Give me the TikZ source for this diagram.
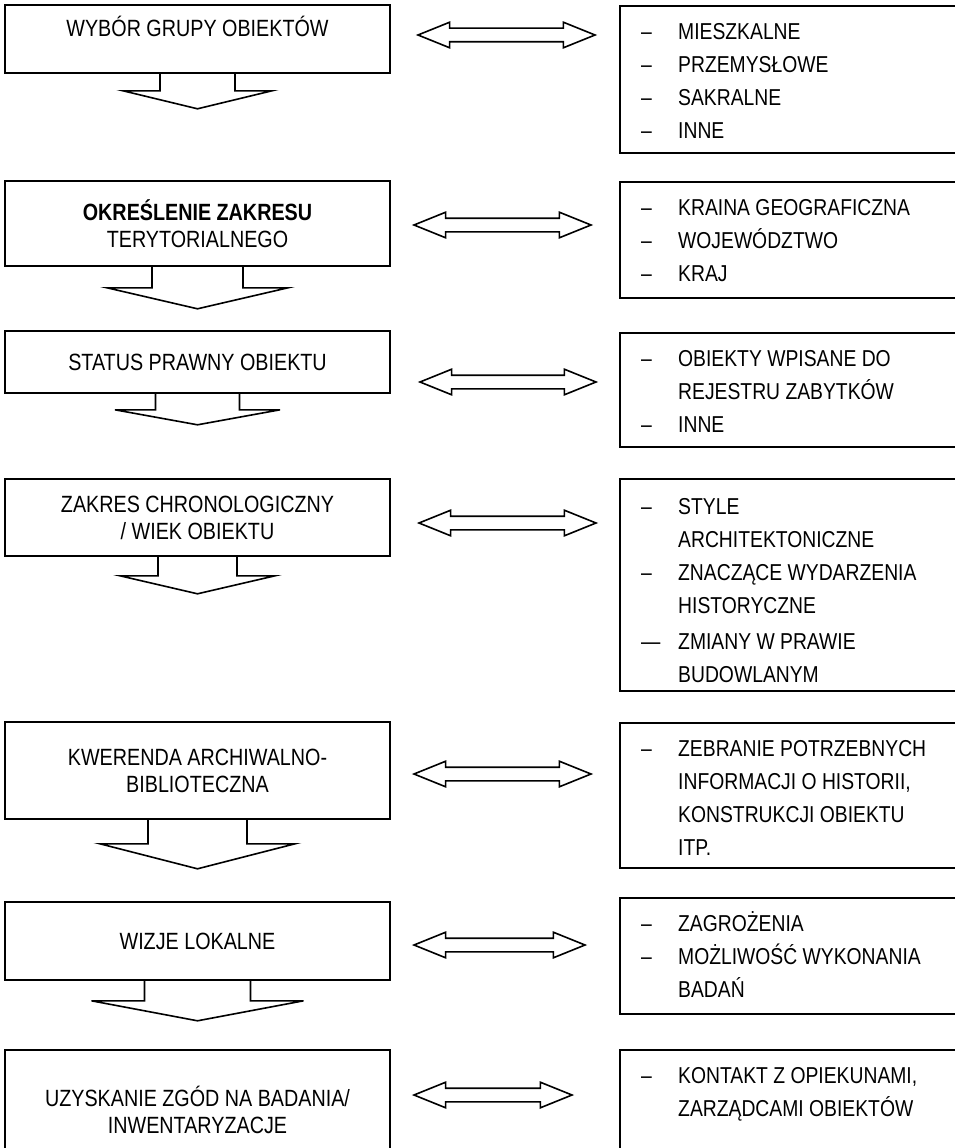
\documentclass[tikz,border=0pt]{standalone}
\usepackage{fontspec}
\setmainfont[FakeStretch=0.84]{Liberation Sans}
\usepackage{tikz}
\usetikzlibrary{positioning, calc, shapes.arrows}

\begin{document}
\begin{tikzpicture}[
    x=1pt, y=-1pt,
    lbox/.style={draw, rectangle, line width=1.6pt, minimum width=385pt, inner sep=0pt, align=center, font=\fontsize{23.5}{27}\selectfont},
    rbox/.style={draw, rectangle, line width=1.6pt, minimum width=400pt, inner sep=0pt, anchor=north west},
    rlist/.style={anchor=north west, inner sep=0pt, font=\fontsize{23}{33}\selectfont},
    link/.style={double arrow, draw, line width=1.6pt, inner xsep=0pt, inner ysep=6pt, double arrow head extend=6pt, double arrow tip angle=44},
    flow/.style={line width=1.6pt}
]
    \useasboundingbox (0,0) rectangle (955,1148);

    % Left column (steps)
    \node[lbox, minimum height=68pt, text height=21pt, text depth=25pt] (wybor) at (197.5,39) {WYBÓR GRUPY OBIEKTÓW};
    \node[lbox, minimum height=85pt] (zakres) at (197.5,223.5) {\textbf{OKREŚLENIE ZAKRESU}\\TERYTORIALNEGO};
    \node[lbox, minimum height=62pt] (status) at (197.5,362) {STATUS PRAWNY OBIEKTU};
    \node[lbox, minimum height=77pt] (wiek) at (197.5,517.5) {ZAKRES CHRONOLOGICZNY\\/ WIEK OBIEKTU};
    \node[lbox, minimum height=97pt] (kwerenda) at (197.5,770.5) {KWERENDA ARCHIWALNO-\\BIBLIOTECZNA};
    \node[lbox, minimum height=78pt] (wizje) at (197.5,941) {WIZJE LOKALNE};
    \node[lbox, minimum height=120pt] (zgody) at (197.5,1110) {UZYSKANIE ZGÓD NA BADANIA/\\INWENTARYZACJE};

    % Down arrows
    \draw[flow] ($(wybor.south)+(-37.5,0)$) -- ++(0,17) -- ++(-37,0) -- ($(wybor.south)+(0,35)$) -- ++(74.5,-18) -- ++(-37,0) -- ++(0,-17);
    \draw[flow] ($(zakres.south)+(-45.5,0)$) -- ++(0,21) -- ++(-45,0) -- ($(zakres.south)+(0,42)$) -- ++(90.5,-21) -- ++(-45,0) -- ++(0,-21);
    \draw[flow] ($(status.south)+(-42,0)$) -- ++(0,16) -- ++(-40.5,0) -- ($(status.south)+(0,31)$) -- ++(82.5,-15) -- ++(-40.5,0) -- ++(0,-16);
    \draw[flow] ($(wiek.south)+(-39.5,0)$) -- ++(0,19) -- ++(-38,0) -- ($(wiek.south)+(0,37)$) -- ++(77.5,-18) -- ++(-38,0) -- ++(0,-19);
    \draw[flow] ($(kwerenda.south)+(-49.5,0)$) -- ++(0,24) -- ++(-48,0) -- ($(kwerenda.south)+(0,49)$) -- ++(97.5,-25) -- ++(-48,0) -- ++(0,-24);
    \draw[flow] ($(wizje.south)+(-53,0)$) -- ++(0,20) -- ++(-53,0) -- ($(wizje.south)+(0,40)$) -- ++(106,-20) -- ++(-53,0) -- ++(0,-20);

    % Right column (details)
    \node[rbox, minimum height=147pt] (grupy) at (619,5) {};
    \node[rlist] (grupyTxt) at (641,15.9) {\begin{tabular}{@{}p{37pt}@{}l@{}}
        – & MIESZKALNE\\ – & PRZEMYSŁOWE\\ – & SAKRALNE\\ – & INNE\end{tabular}};
    \node[rbox, minimum height=116pt] (teren) at (619,181) {};
    \node[rlist] (terenTxt) at (641,191.9) {\begin{tabular}{@{}p{37pt}@{}l@{}}
        – & KRAINA GEOGRAFICZNA\\ – & WOJEWÓDZTWO\\ – & KRAJ\end{tabular}};
    \node[rbox, minimum height=114pt] (rejestr) at (619,332) {};
    \node[rlist] (rejestrTxt) at (641,342.9) {\begin{tabular}{@{}p{37pt}@{}l@{}}
        – & OBIEKTY WPISANE DO\\ & REJESTRU ZABYTKÓW\\ – & INNE\end{tabular}};
    \node[rbox, minimum height=212pt] (epoki) at (619,478) {};
    \node[rlist] (epokiTxt) at (641,490.9) {\begin{tabular}{@{}p{37pt}@{}l@{}}
        – & STYLE\\ & ARCHITEKTONICZNE\\ – & ZNACZĄCE WYDARZENIA\\ & HISTORYCZNE\\[3pt]
        — & ZMIANY W PRAWIE\\ & BUDOWLANYM\end{tabular}};
    \node[rbox, minimum height=145pt] (zrodla) at (619,722) {};
    \node[rlist] (zrodlaTxt) at (641,732.9) {\begin{tabular}{@{}p{37pt}@{}l@{}}
        – & ZEBRANIE POTRZEBNYCH\\ & INFORMACJI O HISTORII,\\ & KONSTRUKCJI OBIEKTU\\ & ITP.\end{tabular}};
    \node[rbox, minimum height=116pt] (stan) at (619,897) {};
    \node[rlist] (stanTxt) at (641,907.9) {\begin{tabular}{@{}p{37pt}@{}l@{}}
        – & ZAGROŻENIA\\ – & MOŻLIWOŚĆ WYKONANIA\\ & BADAŃ\end{tabular}};
    \node[rbox, minimum height=130pt] (kontakt) at (619,1049) {};
    \node[rlist] (kontaktTxt) at (641,1059.9) {\begin{tabular}{@{}p{37pt}@{}l@{}}
        – & KONTAKT Z OPIEKUNAMI,\\ & ZARZĄDCAMI OBIEKTÓW\end{tabular}};

    % Two-way arrows
    \node[link, minimum height=177pt] (wyborLink) at (506.5,35) {};
    \node[link, minimum height=177pt] (zakresLink) at (502.5,225) {};
    \node[link, minimum height=176pt] (statusLink) at (508,382) {};
    \node[link, minimum height=177pt] (wiekLink) at (507.5,523) {};
    \node[link, minimum height=177pt] (kwerendaLink) at (502.5,774) {};
    \node[link, minimum height=171pt] (wizjeLink) at (499.5,945) {};
    \node[link, minimum height=158pt] (zgodyLink) at (493,1095) {};
\end{tikzpicture}
\end{document}
